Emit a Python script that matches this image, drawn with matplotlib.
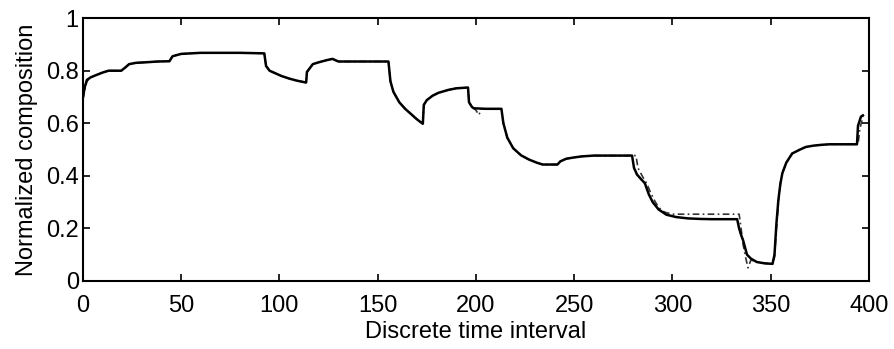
import matplotlib
matplotlib.use("Agg")
import matplotlib.pyplot as plt

# Solid series (measured)
x_solid = [0, 1, 2, 4, 6.6, 10, 13, 19.5, 21.5, 23.5, 27, 32, 38, 44, 45.6, 48, 50, 55, 60, 70, 80, 92.3,
           93.2, 95, 98, 101, 105, 109, 113.6, 114, 115, 117, 120, 124, 127, 130, 140, 150, 155.5,
           156.5, 158, 161, 164, 167, 170, 173, 173.5, 175, 178, 181, 186, 190, 196,
           196.5, 198, 199, 205, 213, 214, 216, 219, 223, 227, 231, 234, 241.5, 243, 246, 250, 254,
           260, 270, 279.5, 280.5, 282, 284, 286, 288, 290, 293, 297, 302, 308, 314, 320, 333,
           334, 335, 336, 338, 340, 343, 347, 351, 352, 353, 354, 355, 356, 358, 361, 365, 368,
           372, 376, 380, 390, 394, 394.5, 396, 397]
y_solid = [0.70, 0.74, 0.765, 0.775, 0.783, 0.793, 0.80, 0.80, 0.812, 0.825, 0.830, 0.832, 0.835, 0.836,
           0.855, 0.860, 0.864, 0.866, 0.868, 0.868, 0.868, 0.866,
           0.818, 0.80, 0.79, 0.78, 0.77, 0.762, 0.755, 0.795, 0.805, 0.825, 0.832, 0.840, 0.845,
           0.835, 0.835, 0.835, 0.835,
           0.760, 0.720, 0.680, 0.655, 0.635, 0.615, 0.598, 0.670, 0.688, 0.705, 0.716, 0.727,
           0.733, 0.736,
           0.680, 0.662, 0.657, 0.655, 0.655, 0.600, 0.545, 0.505, 0.478, 0.462, 0.450, 0.443,
           0.443, 0.455, 0.465, 0.470, 0.474,
           0.477, 0.477, 0.477, 0.430, 0.405, 0.388, 0.372, 0.330, 0.300, 0.272, 0.252, 0.243,
           0.238, 0.236, 0.235, 0.235,
           0.200, 0.175, 0.155, 0.100, 0.085, 0.072, 0.067, 0.065, 0.10, 0.22, 0.31, 0.37, 0.41,
           0.45, 0.485, 0.50, 0.51,
           0.515, 0.518, 0.520, 0.520, 0.520, 0.590, 0.625, 0.630]

# Dash-dot series (measured)
x_dash = [0, 1, 2, 4, 6.6, 10, 13, 19.5, 21.5, 23.5, 27, 32, 38, 44, 45.6, 48, 50, 55, 60, 70, 80, 92.3,
          93.2, 95, 98, 101, 105, 109, 113.6, 114, 115, 117, 120, 124, 127, 130, 140, 150, 155.5,
          156.5, 158, 161, 164, 167, 170, 173, 173.5, 175, 178, 181, 186, 190, 196,
          196.5, 198, 200, 201.5, 203, 213, 214, 216, 219, 223, 227, 231, 234, 241.5, 243, 246,
          250, 254, 260, 270, 281.5, 282.5, 285, 287, 289, 291, 293, 296, 300, 310, 320, 334,
          335, 336, 337, 338.5, 340, 343, 347, 351, 352, 353, 354, 355, 356, 358, 361, 365, 368,
          372, 376, 380, 390, 394.5, 395.5, 396.5, 397]
y_dash = [0.69, 0.73, 0.76, 0.775, 0.783, 0.793, 0.80, 0.80, 0.812, 0.825, 0.830, 0.832, 0.835, 0.836,
          0.855, 0.860, 0.864, 0.866, 0.868, 0.868, 0.868, 0.866,
          0.818, 0.80, 0.79, 0.78, 0.77, 0.762, 0.755, 0.795, 0.805, 0.825, 0.832, 0.840, 0.845,
          0.835, 0.835, 0.835, 0.835,
          0.760, 0.720, 0.680, 0.655, 0.635, 0.615, 0.596, 0.670, 0.688, 0.705, 0.716, 0.727,
          0.733, 0.736,
          0.680, 0.662, 0.650, 0.632, 0.655, 0.655, 0.600, 0.545, 0.505, 0.478, 0.462, 0.450,
          0.443, 0.443, 0.455, 0.465,
          0.470, 0.474, 0.477, 0.477, 0.477, 0.430, 0.395, 0.370, 0.335, 0.305, 0.280, 0.262,
          0.254, 0.254, 0.254, 0.254,
          0.200, 0.140, 0.100, 0.050, 0.080, 0.072, 0.067, 0.065, 0.09, 0.20, 0.30, 0.37, 0.41,
          0.45, 0.485, 0.50, 0.51,
          0.515, 0.518, 0.520, 0.520, 0.520, 0.580, 0.610, 0.630]

x_ticks = [0, 50, 100, 150, 200, 250, 300, 350, 400]
y_ticks = [0, 0.2, 0.4, 0.6, 0.8, 1]
y_ticklabels = ["0", "0.2", "0.4", "0.6", "0.8", "1"]

plt.rcParams['font.family'] = ['Liberation Sans', 'DejaVu Sans']

fig = plt.figure(figsize=(8.94, 3.49), dpi=100)
ax = fig.add_axes([0.0928, 0.195, 0.879, 0.753])

ax.plot(x_dash, y_dash, color='#333333', lw=1.2, linestyle=(0, (4, 2, 1, 2)))
ax.plot(x_solid, y_solid, color='black', lw=1.8)

ax.set_xlim(0, 400)
ax.set_ylim(0, 1)
ax.set_xticks(x_ticks)
ax.set_yticks(y_ticks)
ax.set_yticklabels(y_ticklabels)
ax.tick_params(direction='in', top=True, right=True, length=5, width=1.2,
               labelsize=17, colors='black')
ax.tick_params(axis='x', pad=10)
ax.tick_params(axis='y', pad=3)
for s in ax.spines.values():
    s.set_linewidth(1.5)

ax.set_xlabel("Discrete time interval", fontsize=17, labelpad=3)
ax.set_ylabel("Normalized composition", fontsize=17, labelpad=6)

fig.savefig("out.png", dpi=100)
